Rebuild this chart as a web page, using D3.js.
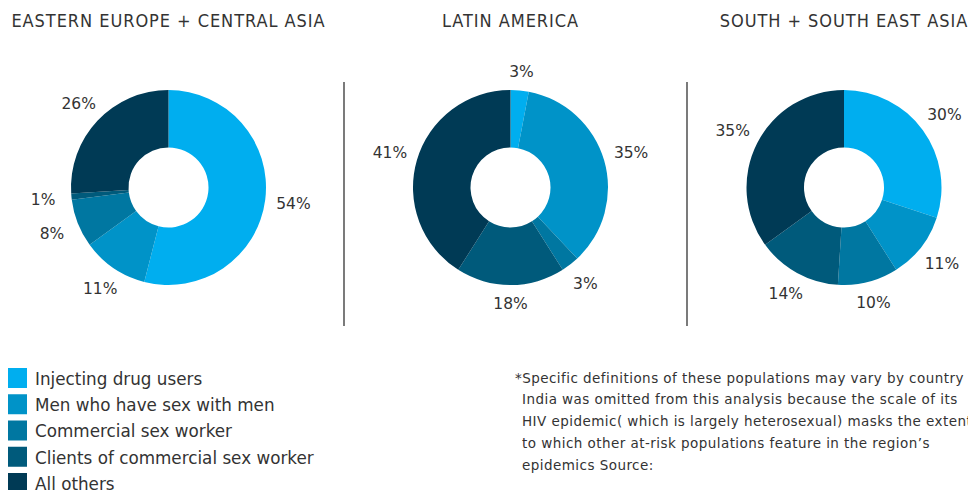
<!DOCTYPE html>
<html><head><meta charset="utf-8">
<script src="https://cdn.jsdelivr.net/npm/d3@7"></script>
<style>
body{margin:0;background:#fff;}
svg{display:block;}
text{fill:#333;}
</style></head>
<body>
<svg id="c" width="968" height="490"></svg>
<script>
const regions = ["EASTERN EUROPE + CENTRAL ASIA", "LATIN AMERICA", "SOUTH + SOUTH EAST ASIA"];
const categories = ["Injecting drug users", "Men who have sex with men", "Commercial sex worker", "Clients of commercial sex worker", "All others"];
const easternEurope = [54, 11, 8, 1, 26];
const latinAmerica = [3, 35, 3, 18, 41];
const southAsia = [30, 11, 10, 14, 35];
const colors = ["#00AEEF", "#0093C8", "#0077A1", "#005A7B", "#003A55"];
const footnote = [
  "*Specific definitions of these populations may vary by country",
  "India was omitted from this analysis because the scale of its",
  "HIV epidemic( which is largely heterosexual) masks the extent",
  "to which other at-risk populations feature in the region’s",
  "epidemics Source:"
];

const svg = d3.select("#c");
const font = "'DejaVu Sans', sans-serif";
const color = d3.scaleOrdinal().domain(categories).range(colors);
const series = [easternEurope, latinAmerica, southAsia];

const centers = [168.5, 510.5, 844];
const cy = 187.5, R = 97.5, r0 = 40;
const pie = d3.pie().sort(null).value(d => d.v);
const arc = d3.arc().innerRadius(r0).outerRadius(R);

regions.forEach((reg, i) => {
  const cx = centers[i];
  const g = svg.append("g").attr("transform", `translate(${cx},${cy})`);
  const data = categories.map((c, k) => ({c, v: series[i][k]}));
  const arcs = pie(data);
  g.selectAll("path").data(arcs).join("path")
    .attr("d", arc).attr("fill", d => color(d.data.c));
  g.selectAll("text.lbl").data(arcs).join("text").attr("class", "lbl")
    .each(function(d){
      const a = (d.startAngle + d.endAngle) / 2;
      const rr = 116 + 10 * Math.abs(Math.sin(a));
      d3.select(this).attr("x", rr * Math.sin(a)).attr("y", -rr * Math.cos(a));
    })
    .attr("text-anchor", "middle").attr("dy", "0.35em")
    .style("font-family", font).style("font-size", "15.5px")
    .text(d => d.data.v + "%");
  svg.append("text").attr("x", cx).attr("y", 27)
    .attr("text-anchor", "middle")
    .style("font-family", "'DejaVu Sans Condensed', 'DejaVu Sans', sans-serif")
    .style("font-size", "18px").style("letter-spacing", "0.95px")
    .text(reg);
});

// separators
const sepX = [344, 687];
svg.selectAll("line.sep").data(sepX).join("line").attr("class", "sep")
  .attr("x1", d => d).attr("x2", d => d).attr("y1", 82).attr("y2", 326)
  .attr("stroke", "#222").attr("stroke-width", 1.2);

// legend
const ly = d3.scaleLinear().domain([0, 4]).range([368, 473]);
const lg = svg.append("g");
lg.selectAll("rect").data(categories).join("rect")
  .attr("x", 8).attr("y", (d, i) => ly(i)).attr("width", 19).attr("height", 20)
  .attr("fill", d => color(d));
lg.selectAll("text").data(categories).join("text")
  .attr("x", 35).attr("y", (d, i) => ly(i) + 11).attr("dy", "0.35em")
  .style("font-family", font).style("font-size", "16.8px")
  .text(d => d);

// footnote
const fy = d3.scaleLinear().domain([0, 4]).range([378, 465]);
svg.append("g").selectAll("text").data(footnote).join("text")
  .attr("x", (d, i) => i === 0 ? 515 : 522).attr("y", (d, i) => fy(i)).attr("dy", "0.35em")
  .style("font-family", font).style("font-size", "13.5px").style("letter-spacing", "0.45px")
  .text(d => d);
</script>
</body></html>
